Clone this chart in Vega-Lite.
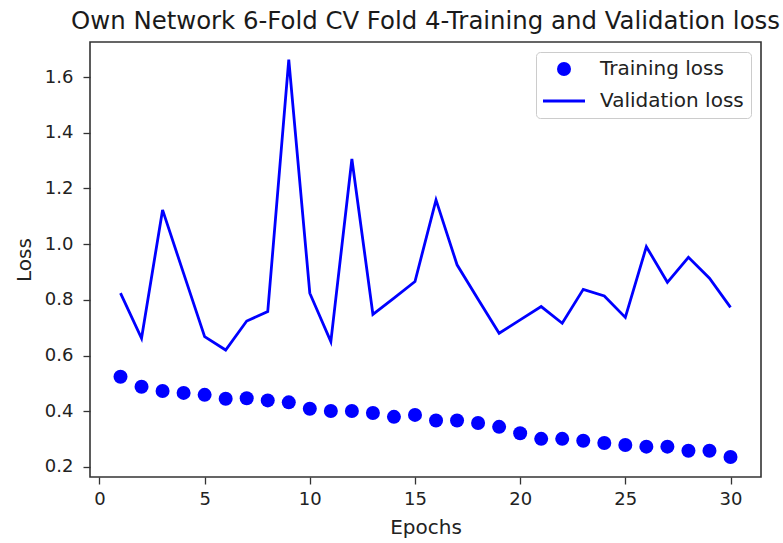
{
  "$schema": "https://vega.github.io/schema/vega-lite/v6.json",
  "width": 671,
  "height": 435,
  "autosize": {"type": "none"},
  "padding": {"left": 90, "top": 42, "right": 22, "bottom": 66},
  "background": "white",
  "title": {"text": "Own Network 6-Fold CV Fold 4-Training and Validation loss", "font": "DejaVu Sans", "fontSize": 24.4, "fontWeight": "normal", "color": "#1a1a1a", "anchor": "middle", "offset": 8},
  "config": {
    "view": {"stroke": "#333", "strokeWidth": 1.6},
    "axis": {"grid": false, "domain": false, "tickColor": "#333", "tickWidth": 1.3, "tickSize": 7, "labelFont": "DejaVu Sans", "labelFontSize": 18, "labelColor": "#222", "titleFont": "DejaVu Sans", "titleFontSize": 20, "titleFontWeight": "normal", "titleColor": "#222"}
  },
  "data": {"values": [
    {"epoch": 1, "series": "Training loss", "loss": 0.524},
    {"epoch": 2, "series": "Training loss", "loss": 0.488},
    {"epoch": 3, "series": "Training loss", "loss": 0.473},
    {"epoch": 4, "series": "Training loss", "loss": 0.466},
    {"epoch": 5, "series": "Training loss", "loss": 0.459},
    {"epoch": 6, "series": "Training loss", "loss": 0.445},
    {"epoch": 7, "series": "Training loss", "loss": 0.447},
    {"epoch": 8, "series": "Training loss", "loss": 0.439},
    {"epoch": 9, "series": "Training loss", "loss": 0.432},
    {"epoch": 10, "series": "Training loss", "loss": 0.409},
    {"epoch": 11, "series": "Training loss", "loss": 0.401},
    {"epoch": 12, "series": "Training loss", "loss": 0.401},
    {"epoch": 13, "series": "Training loss", "loss": 0.394},
    {"epoch": 14, "series": "Training loss", "loss": 0.380},
    {"epoch": 15, "series": "Training loss", "loss": 0.387},
    {"epoch": 16, "series": "Training loss", "loss": 0.367},
    {"epoch": 17, "series": "Training loss", "loss": 0.367},
    {"epoch": 18, "series": "Training loss", "loss": 0.358},
    {"epoch": 19, "series": "Training loss", "loss": 0.344},
    {"epoch": 20, "series": "Training loss", "loss": 0.321},
    {"epoch": 21, "series": "Training loss", "loss": 0.301},
    {"epoch": 22, "series": "Training loss", "loss": 0.301},
    {"epoch": 23, "series": "Training loss", "loss": 0.294},
    {"epoch": 24, "series": "Training loss", "loss": 0.286},
    {"epoch": 25, "series": "Training loss", "loss": 0.279},
    {"epoch": 26, "series": "Training loss", "loss": 0.273},
    {"epoch": 27, "series": "Training loss", "loss": 0.273},
    {"epoch": 28, "series": "Training loss", "loss": 0.258},
    {"epoch": 29, "series": "Training loss", "loss": 0.258},
    {"epoch": 30, "series": "Training loss", "loss": 0.236},
    {"epoch": 1, "series": "Validation loss", "loss": 0.824},
    {"epoch": 2, "series": "Validation loss", "loss": 0.662},
    {"epoch": 3, "series": "Validation loss", "loss": 1.123},
    {"epoch": 4, "series": "Validation loss", "loss": 0.895},
    {"epoch": 5, "series": "Validation loss", "loss": 0.668},
    {"epoch": 6, "series": "Validation loss", "loss": 0.620},
    {"epoch": 7, "series": "Validation loss", "loss": 0.724},
    {"epoch": 8, "series": "Validation loss", "loss": 0.758},
    {"epoch": 9, "series": "Validation loss", "loss": 1.663},
    {"epoch": 10, "series": "Validation loss", "loss": 0.824},
    {"epoch": 11, "series": "Validation loss", "loss": 0.650},
    {"epoch": 12, "series": "Validation loss", "loss": 1.306},
    {"epoch": 13, "series": "Validation loss", "loss": 0.748},
    {"epoch": 14, "series": "Validation loss", "loss": 0.806},
    {"epoch": 15, "series": "Validation loss", "loss": 0.866},
    {"epoch": 16, "series": "Validation loss", "loss": 1.159},
    {"epoch": 17, "series": "Validation loss", "loss": 0.926},
    {"epoch": 18, "series": "Validation loss", "loss": 0.802},
    {"epoch": 19, "series": "Validation loss", "loss": 0.680},
    {"epoch": 20, "series": "Validation loss", "loss": 0.728},
    {"epoch": 21, "series": "Validation loss", "loss": 0.776},
    {"epoch": 22, "series": "Validation loss", "loss": 0.716},
    {"epoch": 23, "series": "Validation loss", "loss": 0.838},
    {"epoch": 24, "series": "Validation loss", "loss": 0.814},
    {"epoch": 25, "series": "Validation loss", "loss": 0.737},
    {"epoch": 26, "series": "Validation loss", "loss": 0.991},
    {"epoch": 27, "series": "Validation loss", "loss": 0.863},
    {"epoch": 28, "series": "Validation loss", "loss": 0.953},
    {"epoch": 29, "series": "Validation loss", "loss": 0.878},
    {"epoch": 30, "series": "Validation loss", "loss": 0.773}
  ]},
  "encoding": {
    "x": {"field": "epoch", "type": "quantitative", "title": "Epochs", "scale": {"domain": [-0.45, 31.45], "nice": false, "zero": false}, "axis": {"values": [0, 5, 10, 15, 20, 25, 30], "format": "d", "labelPadding": 6, "titlePadding": 9}},
    "y": {"field": "loss", "type": "quantitative", "title": "Loss", "scale": {"domain": [0.164, 1.726], "nice": false, "zero": false}, "axis": {"values": [0.2, 0.4, 0.6, 0.8, 1.0, 1.2, 1.4, 1.6], "format": ".1f", "labelPadding": 10, "titlePadding": 10}},
    "color": {"field": "series", "type": "nominal", "scale": {"domain": ["Training loss", "Validation loss"], "range": ["#0000ff", "#0000ff"]},
      "legend": {"title": null, "orient": "top-right", "offset": 10, "padding": 7, "fillColor": "rgba(255,255,255,0.8)", "strokeColor": "#cccccc", "cornerRadius": 4, "labelFont": "DejaVu Sans", "labelFontSize": 20, "labelColor": "#222", "symbolSize": 196, "symbolOffset": 11, "labelOffset": 26, "rowPadding": 12,
        "encode": {"symbols": {"update": {
          "shape": {"signal": "datum.value === 'Training loss' ? 'circle' : 'stroke'"},
          "size": {"signal": "datum.value === 'Training loss' ? 196 : 1764"},
          "fill": {"signal": "datum.value === 'Training loss' ? '#0000ff' : 'transparent'"},
          "stroke": {"value": "#0000ff"},
          "strokeWidth": {"signal": "datum.value === 'Training loss' ? 0 : 3"},
          "opacity": {"value": 1}
        }}}}}
  },
  "layer": [
    {"transform": [{"filter": "datum.series === 'Training loss'"}], "mark": {"type": "point", "shape": "circle", "filled": true, "size": 196, "opacity": 1}},
    {"transform": [{"filter": "datum.series === 'Validation loss'"}], "mark": {"type": "line", "strokeWidth": 2.8}}
  ]
}
